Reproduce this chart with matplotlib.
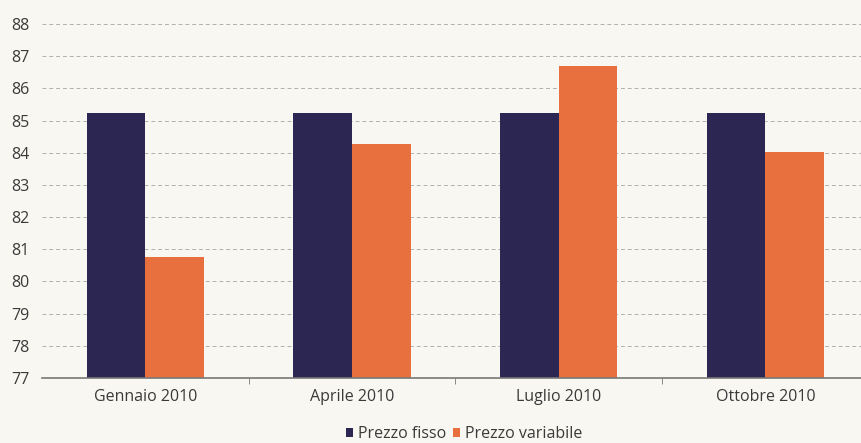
#!/usr/bin/env python3

import numpy as np
from matplotlib import pyplot as plt

categorie = ['Gennaio 2010', 'Aprile 2010', 'Luglio 2010', 'Ottobre 2010']
prezzo_fisso = [85.25, 85.25, 85.25, 85.25]
prezzo_variabile = [80.77, 84.27, 86.68, 84.03]

blu = '#2b2652'
arancio = '#e8703f'
testo = '#3a3a3a'

plt.rcParams['font.family'] = ['Open Sans', 'DejaVu Sans']


def main():
    fig = plt.figure(figsize=(8.61, 4.43), dpi=100, facecolor='#f8f7f2')
    ax = fig.add_axes([42/861, 65/443, 819/861, 354/443])
    ax.set_facecolor('none')

    x = np.arange(len(categorie))
    w = 0.284
    ax.bar(x - w/2, np.array(prezzo_fisso) - 77, w, bottom=77, color=blu,
           label='Prezzo fisso', zorder=3)
    ax.bar(x + w/2, np.array(prezzo_variabile) - 77, w, bottom=77, color=arancio,
           label='Prezzo variabile', zorder=3)

    ax.set_ylim(77, 88)
    ax.set_xlim(-0.5, -0.5 + 819/206.7)
    ax.set_yticks(range(77, 89))
    ax.yaxis.grid(True, linestyle=(0, (4, 3)), color='#b0b0b0', linewidth=0.7, zorder=0)
    ax.set_xticks(x)
    ax.set_xticklabels(categorie)
    ax.set_xticks([0.5, 1.5, 2.5], minor=True)
    ax.tick_params(axis='x', which='major', length=0, pad=8, labelsize=11.5, labelcolor=testo)
    ax.tick_params(axis='x', which='minor', length=4, color='#777777', direction='out')
    ax.tick_params(axis='y', length=0, pad=9, labelsize=11.5, labelcolor=testo)
    for s in ['top', 'right', 'left']:
        ax.spines[s].set_visible(False)
    ax.spines['bottom'].set_color('#777777')
    ax.spines['bottom'].set_linewidth(1.2)
    ax.spines['bottom'].set_zorder(4)

    fig.legend(loc='lower center', bbox_to_anchor=(0.539, -0.03), ncol=2, frameon=False,
               fontsize=11.5, labelcolor=testo, handlelength=0.45, handleheight=0.45,
               handletextpad=0.3, columnspacing=0.4)

    fig.savefig('out.png', dpi=100, facecolor=fig.get_facecolor())


if __name__ == '__main__':
    main()
